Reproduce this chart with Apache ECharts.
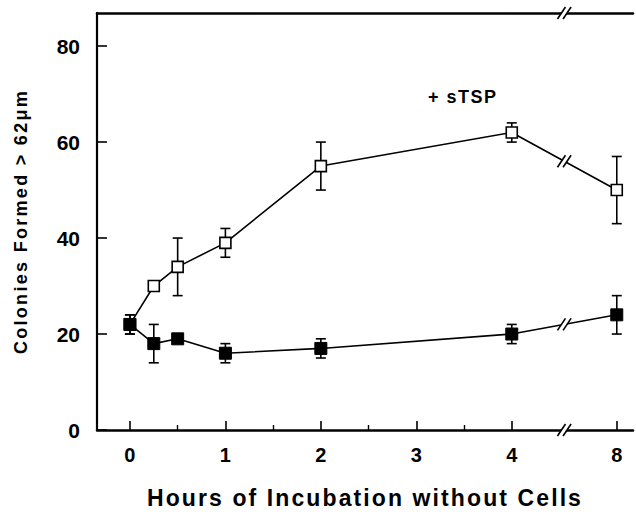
<!DOCTYPE html>
<html><head><meta charset="utf-8">
<script src="https://cdn.jsdelivr.net/npm/echarts@6/dist/echarts.min.js"></script>
<style>html,body{margin:0;padding:0;background:#fff}#c{width:636px;height:514px}</style>
</head><body><div id="c"></div>
<script>
// ---- data ----
const hours = [0, 0.25, 0.5, 1, 2, 4, 8];
const sTSP = [22, 30, 34, 39, 55, 62, 50];
const sTSPLow = [20, 29, 28, 36, 50, 60, 43];
const sTSPHigh = [24, 31, 40, 42, 60, 64, 57];
const control = [22, 18, 19, 16, 17, 20, 24];
const controlLow = [20, 14, 18.5, 14, 15, 18, 20];
const controlHigh = [24, 22, 19.5, 18, 19, 22, 28];
const xTickHours = [0, 1, 2, 3, 4, 8];
const xTickLabels = ['0', '1', '2', '3', '4', '8'];
const xMinorHours = [0.5, 1.5, 2.5, 3.5];
const yTicks = [0, 20, 40, 60, 80];
const breakHour = 6;
const xTitle = 'Hours of Incubation without Cells';
const yTitle = 'Colonies Formed > 62\u03bcm';
const annot = '+ sTSP';

// broken x axis: 4..8 h compressed
function pos(h) { return h <= 4 ? h : 4 + (h - 4) * 0.275; }
const X_MIN = -0.345, X_MAX = 5.27, Y_MAX = 86.9;
const FONT = 'Liberation Sans, Arial, Helvetica, sans-serif';

const chart = echarts.init(document.getElementById('c'), null, {renderer: 'svg'});
const xTickPos = xTickHours.map(pos);

function errSeries(name, low, high) {
  return {
    type: 'custom', name: name, xAxisIndex: 0, z: 3, silent: true,
    data: hours.map((h, i) => [pos(h), low[i], high[i]]),
    renderItem: function (params, api) {
      const x = api.value(0);
      const p1 = api.coord([x, api.value(1)]);
      const p2 = api.coord([x, api.value(2)]);
      const w = 5;
      const st = {stroke: '#000', lineWidth: 1.6};
      return {type: 'group', children: [
        {type: 'line', shape: {x1: p1[0], y1: p1[1], x2: p2[0], y2: p2[1]}, style: st},
        {type: 'line', shape: {x1: p1[0] - w, y1: p1[1], x2: p1[0] + w, y2: p1[1]}, style: st},
        {type: 'line', shape: {x1: p2[0] - w, y1: p2[1], x2: p2[0] + w, y2: p2[1]}, style: st}
      ]};
    }
  };
}

function slash(cx, cy) {
  const dx = 4, dy = 6, g = 2.8;
  return {type: 'group', children: [
    {type: 'polygon', shape: {points: [[cx - g - dx, cy + dy], [cx - g + dx, cy - dy], [cx + g + dx, cy - dy], [cx + g - dx, cy + dy]]}, style: {fill: '#fff'}},
    {type: 'line', shape: {x1: cx - g - dx, y1: cy + dy, x2: cx - g + dx, y2: cy - dy}, style: {stroke: '#000', lineWidth: 1.6}},
    {type: 'line', shape: {x1: cx + g - dx, y1: cy + dy, x2: cx + g + dx, y2: cy - dy}, style: {stroke: '#000', lineWidth: 1.6}}
  ]};
}

// break marks on data lines between 4 h and 8 h (midpoint of the segment)
function lineBreakSeries(vals) {
  const i4 = hours.indexOf(4), i8 = hours.indexOf(8);
  return {
    type: 'custom', xAxisIndex: 0, z: 6, silent: true, clip: false,
    data: [[pos(4), vals[i4], pos(8), vals[i8]]],
    renderItem: function (params, api) {
      const a = api.coord([api.value(0), api.value(1)]);
      const b = api.coord([api.value(2), api.value(3)]);
      return slash((a[0] + b[0]) / 2, (a[1] + b[1]) / 2);
    }
  };
}

const option = {
  animation: false,
  backgroundColor: '#fff',
  grid: {left: 97, right: 3, top: 13, bottom: 84, containLabel: false},
  xAxis: [
    {
      type: 'value', position: 'bottom', min: X_MIN, max: X_MAX,
      axisLine: {show: true, onZero: false, lineStyle: {color: '#000', width: 2.5}},
      axisTick: {show: true, inside: true, length: 9, customValues: xTickPos, lineStyle: {color: '#000', width: 1.6}},
      axisLabel: {show: true, customValues: xTickPos, margin: 15, color: '#000', fontFamily: FONT, fontWeight: 'bold', fontSize: 20,
        formatter: function (v) { const i = xTickPos.findIndex(p => Math.abs(p - v) < 1e-6); return i >= 0 ? xTickLabels[i] : ''; }},
      splitLine: {show: false},
      name: xTitle, nameLocation: 'middle', nameGap: 56,
      nameTextStyle: {color: '#000', fontFamily: FONT, fontWeight: 'bold', fontSize: 23}
    },
    {
      type: 'value', position: 'top', min: X_MIN, max: X_MAX,
      axisLine: {show: true, onZero: false, lineStyle: {color: '#000', width: 2.5}},
      axisTick: {show: false}, axisLabel: {show: false}, splitLine: {show: false}
    },
    {
      type: 'value', position: 'bottom', min: X_MIN, max: X_MAX,
      axisLine: {show: false, onZero: false},
      axisTick: {show: true, inside: true, length: 5, customValues: xMinorHours.map(pos), lineStyle: {color: '#000', width: 1.4}},
      axisLabel: {show: false}, splitLine: {show: false}
    }
  ],
  yAxis: {
    type: 'value', min: 0, max: Y_MAX,
    axisLine: {show: true, onZero: false, lineStyle: {color: '#000', width: 2.2}},
    axisTick: {show: true, inside: true, length: 10, customValues: yTicks, lineStyle: {color: '#000', width: 1.6}},
    axisLabel: {show: true, customValues: yTicks, margin: 17, color: '#000', fontFamily: FONT, fontWeight: 'bold', fontSize: 21},
    splitLine: {show: false},
    name: yTitle, nameLocation: 'middle', nameGap: 67,
    nameTextStyle: {color: '#000', fontFamily: FONT, fontWeight: 'bold', fontSize: 18}
  },
  graphic: [{
    type: 'text', left: 428, top: 88, z: 10,
    style: {text: annot, fill: '#000', font: 'bold 18px ' + FONT}
  }],
  series: [
    errSeries('sTSP err', sTSPLow, sTSPHigh),
    errSeries('control err', controlLow, controlHigh),
    {
      type: 'line', name: '+ sTSP', xAxisIndex: 0, z: 4,
      data: hours.map((h, i) => [pos(h), sTSP[i]]),
      symbol: 'rect', symbolSize: 11,
      lineStyle: {color: '#000', width: 1.6},
      itemStyle: {color: '#fff', borderColor: '#000', borderWidth: 1.6}
    },
    {
      type: 'line', name: 'control', xAxisIndex: 0, z: 5,
      data: hours.map((h, i) => [pos(h), control[i]]),
      symbol: 'rect', symbolSize: 12,
      lineStyle: {color: '#000', width: 1.6},
      itemStyle: {color: '#000', borderColor: '#000', borderWidth: 1}
    },
    lineBreakSeries(sTSP),
    lineBreakSeries(control),
    {
      type: 'custom', xAxisIndex: 0, z: 6, silent: true, clip: false,
      data: [[pos(breakHour), 0], [pos(breakHour), Y_MAX]],
      renderItem: function (params, api) {
        const p = api.coord([api.value(0), api.value(1)]);
        return slash(p[0], p[1]);
      }
    }
  ]
};
chart.setOption(option);

function spaceTexts() {
  const map = {};
  map[xTitle] = '2.1px';
  map[yTitle] = '2.3px';
  map[annot] = '1.5px';
  document.querySelectorAll('#c svg text').forEach(t => {
    const s = t.textContent;
    if (map[s]) t.style.letterSpacing = map[s];
  });
}
spaceTexts();
chart.on('finished', spaceTexts);
</script></body></html>
